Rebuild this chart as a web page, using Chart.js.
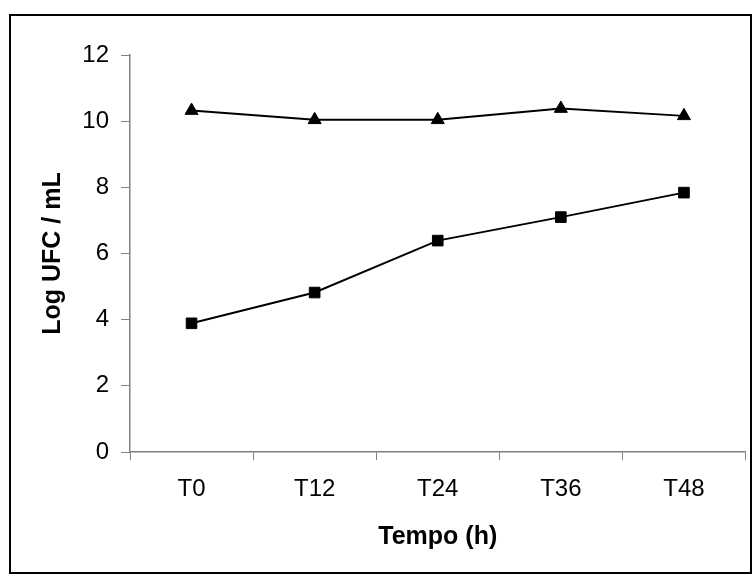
<!DOCTYPE html>
<html>
<head>
<meta charset="utf-8">
<script src="https://cdn.jsdelivr.net/npm/chart.js@4"></script>
<style>
  html, body { margin: 0; padding: 0; background: #fff; }
  #grafico { display: block; }
</style>
</head>
<body>
<canvas id="grafico" width="754" height="576"></canvas>
<script>
const tempos = ['T0', 'T12', 'T24', 'T36', 'T48'];
const serieTriangulo = [10.32, 10.04, 10.04, 10.38, 10.16];
const serieQuadrado = [3.89, 4.82, 6.39, 7.10, 7.84];
const yMin = 0;
const yMax = 12;
const yPasso = 2;

// moldura em volta de todo o gráfico
const moldura = {
  id: 'moldura',
  beforeDraw(chart) {
    const c = chart.ctx;
    c.save();
    c.fillStyle = '#fff';
    c.fillRect(0, 0, chart.width, chart.height);
    c.strokeStyle = '#000';
    c.lineWidth = 2;
    c.strokeRect(10, 15, 741, 558);
    c.restore();
  }
};

window.onload = inicio;

function inicio() {
  const ctx = document.getElementById('grafico');
  const fonteTick = { family: "'Liberation Sans', Arial, sans-serif", size: 24 };
  const fonteTitulo = { family: "'Liberation Sans', Arial, sans-serif", size: 25, weight: 'bold' };

  new Chart(ctx, {
    type: 'line',
    data: {
      labels: tempos,
      datasets: [{
        label: 'A',
        data: serieTriangulo,
        borderColor: '#000',
        backgroundColor: '#000',
        borderWidth: 2,
        pointStyle: 'triangle',
        pointRadius: 7.5,
        pointBorderWidth: 1,
        tension: 0
      }, {
        label: 'B',
        data: serieQuadrado,
        borderColor: '#000',
        backgroundColor: '#000',
        borderWidth: 2,
        pointStyle: 'rect',
        pointRadius: 7.5,
        pointBorderWidth: 1,
        tension: 0
      }]
    },
    options: {
      responsive: false,
      animation: false,
      layout: { padding: { top: 55, right: 6, left: 0, bottom: 0 } },
      plugins: {
        legend: { display: false },
        tooltip: { enabled: false }
      },
      scales: {
        x: {
          offset: true,
          grid: { offset: true, drawOnChartArea: false, tickLength: 8, color: '#808080' },
          border: { color: '#808080', width: 1.5 },
          ticks: { color: '#000', font: fonteTick, padding: 15, maxRotation: 0 },
          title: { display: true, text: 'Tempo (h)', color: '#000', font: fonteTitulo, padding: { top: 4, bottom: 24 } },
          afterFit(scale) { scale.height = 124; }
        },
        y: {
          min: yMin,
          max: yMax,
          grid: { drawOnChartArea: false, tickLength: 9, color: '#808080' },
          border: { color: '#808080', width: 1.5 },
          ticks: { stepSize: yPasso, color: '#000', font: fonteTick, padding: 12 },
          title: { display: true, text: 'Log UFC / mL', color: '#000', font: fonteTitulo, padding: { top: 38, bottom: 4 } },
          afterFit(scale) { scale.width = 130; }
        }
      }
    },
    plugins: [moldura]
  });
}
</script>
</body>
</html>
